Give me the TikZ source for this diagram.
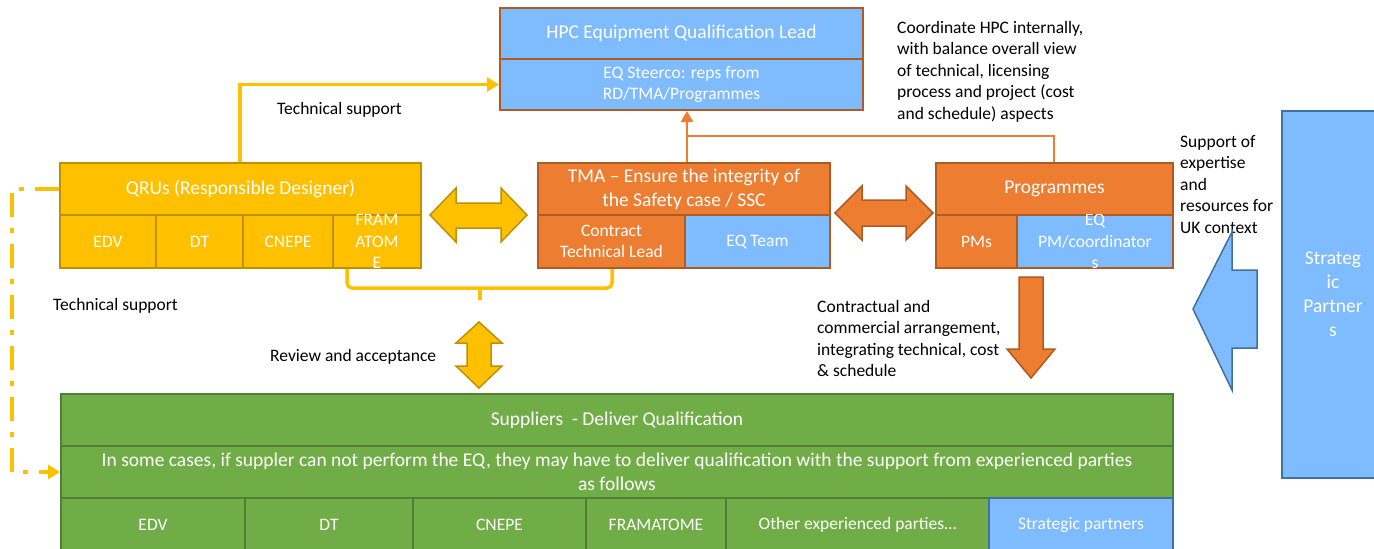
\documentclass[tikz,border=0pt]{standalone}
\usepackage{fontspec}
\setmainfont{Carlito}
\usepackage{xcolor}
\usetikzlibrary{positioning, arrows.meta}

\definecolor{qblue}{RGB}{127,187,255}
\definecolor{qbluedark}{RGB}{65,113,156}
\definecolor{qorange}{RGB}{237,125,49}
\definecolor{qorangedark}{RGB}{174,90,33}
\definecolor{qyellow}{RGB}{255,192,0}
\definecolor{qyellowdark}{RGB}{191,144,0}
\definecolor{qgreen}{RGB}{112,173,71}
\definecolor{qgreendark}{RGB}{80,126,50}

\newcommand{\hdfont}{\fontsize{19.5}{24}\selectfont}
\newcommand{\sbfont}{\fontsize{17.5}{21.5}\selectfont}

\begin{document}
\begin{tikzpicture}[x=1pt, y=-1pt,
    cell/.style={rectangle, draw, line width=2pt, anchor=north west, inner sep=0pt, align=center, text=white, font=\sbfont},
    head/.style={cell, font=\hdfont},
    celltext/.style={inner sep=0pt, align=center, text=white, font=\sbfont},
    yel/.style={fill=qyellow, draw=qyellowdark},
    org/.style={fill=qorange, draw=qorangedark},
    blu/.style={fill=qblue, draw=qorangedark},
    grn/.style={fill=qgreen, draw=qgreendark},
    note/.style={anchor=north west, align=left, inner sep=0pt, font=\sbfont},
    ylink/.style={draw=qyellow, line width=3.5pt},
    olink/.style={draw=qorange, line width=2.5pt},
    blockarrow/.style={line width=1.5pt, line join=miter}]
    \useasboundingbox (0,0) rectangle (1374,549);

    % HPC lead
    \node (hpc) [head, blu, minimum width=363pt, minimum height=51pt] at (499,7) {HPC Equipment Qualification Lead};
    \node (steer) [cell, blu, minimum width=363pt, minimum height=51pt] at (499,58) {EQ Steerco: reps from\\RD/TMA/Programmes};

    % QRUs
    \node (qru) [head, yel, minimum width=361pt, minimum height=52pt] at (59,162) {QRUs (Responsible Designer)};
    \node (edv) [cell, yel, minimum width=96pt, minimum height=53pt] at (59,214) {EDV};
    \node (dt) [cell, yel, minimum width=87pt, minimum height=53pt] at (155,214) {DT};
    \node (cnepe) [cell, yel, minimum width=90pt, minimum height=53pt] at (242,214) {CNEPE};
    \node (fra) [cell, yel, minimum width=88pt, minimum height=53pt] at (332,214) {};
    \begin{scope}
        \clip (fra.north west) rectangle (fra.south east);
        \node (fratext) [celltext] at (fra.center) {FRAM\\ATOM\\E};
    \end{scope}

    % TMA
    \node (tma) [head, org, minimum width=292pt, minimum height=52pt] at (537,162) {TMA -- Ensure the integrity of\\the Safety case / SSC};
    \node (ctl) [cell, org, minimum width=147pt, minimum height=53pt] at (537,214) {Contract\\Technical Lead};
    \node (eqteam) [cell, blu, minimum width=145pt, minimum height=53pt] at (684,214) {EQ Team};

    % Programmes
    \node (prog) [head, org, minimum width=237pt, minimum height=52pt] at (935,162) {Programmes};
    \node (pms) [cell, org, minimum width=81pt, minimum height=53pt] at (935,214) {PMs};
    \node (eqpm) [cell, blu, minimum width=156pt, minimum height=53pt] at (1016,214) {};
    \begin{scope}
        \clip (eqpm.north west) rectangle (eqpm.south east);
        \node (eqpmtext) [celltext] at (eqpm.center) {EQ\\PM/coordinator\\s};
    \end{scope}

    % Suppliers
    \node (sup) [head, grn, minimum width=1112pt, minimum height=52pt] at (60,393) {Suppliers~~- Deliver Qualification};
    \node (offer) [head, grn, minimum width=1112pt, minimum height=52pt] at (60,445) {In some cases, if suppler can not perform the EQ, they may have to deliver qualification with the support from experienced parties\\as follows};
    \node (gedv) [cell, grn, minimum width=184pt, minimum height=53pt] at (60,497) {EDV};
    \node (gdt) [cell, grn, minimum width=168pt, minimum height=53pt] at (244,497) {DT};
    \node (gcnepe) [cell, grn, minimum width=173pt, minimum height=53pt] at (412,497) {CNEPE};
    \node (gfra) [cell, grn, minimum width=140pt, minimum height=53pt] at (585,497) {FRAMATOME};
    \node (gother) [cell, grn, minimum width=263pt, minimum height=53pt] at (725,497) {Other experienced parties…};
    \node (gstrat) [cell, fill=qblue, draw=qbluedark, minimum width=184pt, minimum height=53pt] at (988,497) {Strategic partners};

    % Strategic partners
    \node (strat) [head, fill=qblue, draw=qbluedark, minimum width=102pt, minimum height=367pt] at (1281,110) {Strateg\\ic\\Partner\\s};

    % Notes
    \node (coordnote) [note] at (897,21) {Coordinate HPC internally,\\with balance overall view\\of technical, licensing\\process and project (cost\\and schedule) aspects};
    \node (supportnote) [note] at (1180,135) {Support of\\expertise\\and\\resources for\\UK context};
    \node (contractnote) [note] at (817,300) {Contractual and\\commercial arrangement,\\integrating technical, cost\\\& schedule};
    \node (tsnote) [note, anchor=west] at (277,110) {Technical support};
    \node (tsnoteleft) [note, anchor=west] at (53,306) {Technical support};
    \node (reviewnote) [note, anchor=west] at (270,357) {Review and acceptance};

    % Links to HPC lead
    \draw[ylink, -{Triangle[length=12pt,width=14pt]}] ([xshift=181pt]qru.north west) |- (steer.west);
    \coordinate (tmaup) at ([xshift=150pt]tma.north west);
    \draw[olink, -{Triangle[length=11pt,width=12pt]}] (tmaup) -- (tmaup |- steer.south);
    \draw[olink] ([xshift=119pt]prog.north west) -- ++(0,-26) -| (tmaup);

    % Bracket under QRUs and TMA
    \coordinate (brk) at (480,288);
    \draw[ylink, rounded corners=5pt] ([xshift=15pt]fra.south west) |- (brk) -| ([xshift=75pt]ctl.south west);
    \draw[ylink] (brk) -- ++(0,12);

    % Dashed technical support
    \draw[qyellow, line width=4pt, dash pattern=on 24pt off 11pt on 5pt off 11pt, -{Triangle[length=12pt,width=14pt]}] (qru.west) -- ++(-47,0) |- (offer.west);

    % Block arrows
    \filldraw[blockarrow, fill=qyellow, draw=qyellowdark] (430,215) -- (456,188) -- (456,203) -- (501,203) -- (501,188) -- (527,215) -- (501,242) -- (501,228) -- (456,228) -- (456,242) -- cycle;
    \filldraw[blockarrow, fill=qorange, draw=qorangedark] (835,213) -- (862,186) -- (862,200) -- (906,200) -- (906,186) -- (933,213) -- (906,240) -- (906,226) -- (862,226) -- (862,240) -- cycle;
    \filldraw[blockarrow, fill=qyellow, draw=qyellowdark] (479,322) -- (502,343) -- (491,343) -- (491,366) -- (502,366) -- (479,388) -- (456,366) -- (467,366) -- (467,343) -- (456,343) -- cycle;
    \filldraw[blockarrow, fill=qorange, draw=qorangedark] (1019,277) -- (1043,277) -- (1043,349) -- (1055,349) -- (1031,378) -- (1007,349) -- (1019,349) -- cycle;
    \filldraw[blockarrow, fill=qblue, draw=qbluedark] (1193,309) -- (1232,232) -- (1232,270) -- (1257,270) -- (1257,348) -- (1232,348) -- (1232,390) -- cycle;
\end{tikzpicture}
\end{document}
